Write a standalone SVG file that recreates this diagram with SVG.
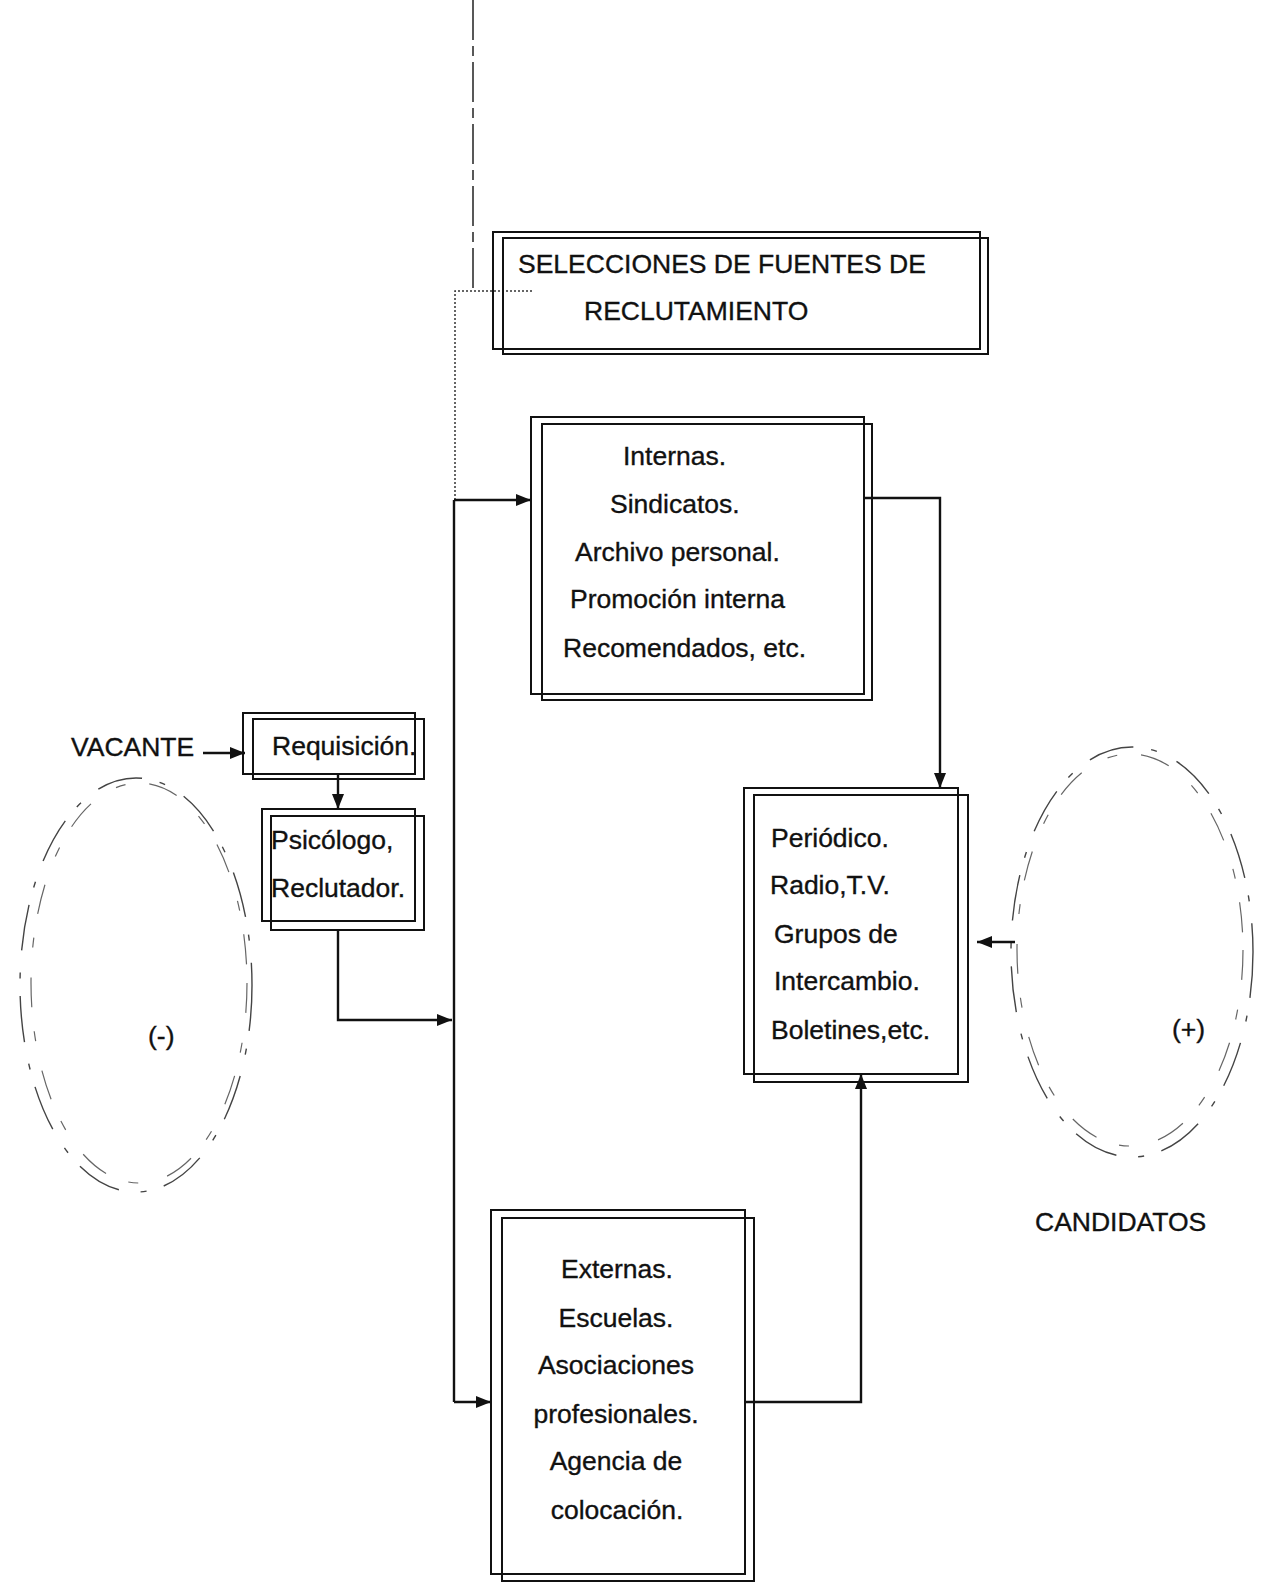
<svg xmlns="http://www.w3.org/2000/svg" width="1263" height="1584" viewBox="0 0 1263 1584">
  <defs>
    <marker id="arrow" viewBox="0 0 15 12" refX="15" refY="6" markerWidth="15" markerHeight="12" markerUnits="userSpaceOnUse" orient="auto">
      <path d="M0,0 L15,6 L0,12 Z" fill="#111"/>
    </marker>
    <style>
      .box { fill: none; stroke: #111; stroke-width: 2; }
      .txt { font-family: "Liberation Sans", Arial, sans-serif; font-size: 26.5px; fill: #111; stroke: #111; stroke-width: 0.35px; }
      .mid { text-anchor: middle; }
      .link { fill: none; stroke: #111; stroke-width: 2.4; }
      .ring { fill: none; stroke: #444; stroke-width: 1.4; stroke-dasharray: 46 18 6 22; }
      .ring2 { fill: none; stroke: #666; stroke-width: 1.2; stroke-dasharray: 30 30 10 24; }
    </style>
  </defs>
  <rect width="1263" height="1584" fill="#fff"/>

  <!-- guide lines at the top of the sheet -->
  <g id="guides">
    <line x1="473" y1="0" x2="473" y2="294" stroke="#222" stroke-width="1.5" stroke-dasharray="40 6 10 6"/>
    <polyline points="532,291 455,291 455,500" fill="none" stroke="#333" stroke-width="1.5" stroke-dasharray="2 2"/>
  </g>

  <!-- title node -->
  <g id="fuentes">
    <rect class="box" x="493" y="232" width="487" height="117"/>
    <rect class="box" x="503" y="238" width="485" height="116"/>
    <text class="txt" x="518" y="273">SELECCIONES DE FUENTES DE</text>
    <text class="txt" x="584" y="320">RECLUTAMIENTO</text>
  </g>

  <!-- internal sources -->
  <g id="internas">
    <rect class="box" x="531" y="417" width="333" height="277"/>
    <rect class="box" x="542" y="424" width="330" height="276"/>
    <text class="txt" x="623" y="465">Internas.</text>
    <text class="txt" x="610" y="513">Sindicatos.</text>
    <text class="txt" x="575" y="561">Archivo personal.</text>
    <text class="txt" x="570" y="608">Promoción interna</text>
    <text class="txt" x="563" y="657">Recomendados, etc.</text>
  </g>

  <!-- vacancy label -->
  <g id="vacante">
    <text class="txt" x="71" y="756">VACANTE</text>
  </g>

  <g id="requisicion">
    <rect class="box" x="243" y="713" width="172" height="61"/>
    <rect class="box" x="253" y="719" width="171" height="60"/>
    <text class="txt" x="272" y="755">Requisición.</text>
  </g>

  <g id="psicologo">
    <rect class="box" x="262" y="809" width="153" height="112"/>
    <rect class="box" x="271" y="816" width="153" height="114"/>
    <text class="txt" x="271" y="849">Psicólogo,</text>
    <text class="txt" x="271" y="897">Reclutador.</text>
  </g>

  <!-- media -->
  <g id="medios">
    <rect class="box" x="744" y="788" width="214" height="286"/>
    <rect class="box" x="754" y="795" width="214" height="287"/>
    <text class="txt" x="771" y="847">Periódico.</text>
    <text class="txt" x="770" y="894">Radio,T.V.</text>
    <text class="txt" x="774" y="943">Grupos de</text>
    <text class="txt" x="774" y="990">Intercambio.</text>
    <text class="txt" x="771" y="1039">Boletines,etc.</text>
  </g>

  <!-- external sources -->
  <g id="externas">
    <rect class="box" x="491" y="1210" width="254" height="364"/>
    <rect class="box" x="502" y="1218" width="252" height="363"/>
    <text class="txt mid" x="617" y="1278">Externas.</text>
    <text class="txt mid" x="616" y="1327">Escuelas.</text>
    <text class="txt mid" x="616" y="1374">Asociaciones</text>
    <text class="txt mid" x="616" y="1423">profesionales.</text>
    <text class="txt mid" x="616" y="1470">Agencia de</text>
    <text class="txt mid" x="617" y="1519">colocación.</text>
  </g>

  <!-- vacancy pool -->
  <g id="negativo">
    <ellipse class="ring" cx="136" cy="985" rx="116" ry="207"/>
    <ellipse class="ring2" cx="139" cy="983" rx="108" ry="200"/>
    <text class="txt" x="148" y="1045">(-)</text>
  </g>

  <!-- candidate pool -->
  <g id="positivo">
    <ellipse class="ring" cx="1132" cy="952" rx="121" ry="205"/>
    <ellipse class="ring2" cx="1130" cy="950" rx="113" ry="196"/>
    <text class="txt" x="1172" y="1038">(+)</text>
  </g>

  <g id="candidatos">
    <text class="txt" x="1035" y="1231">CANDIDATOS</text>
  </g>

  <!-- connectors -->
  <g id="connectors">
    <line class="link" x1="203" y1="753" x2="245" y2="753" marker-end="url(#arrow)"/>
    <line class="link" x1="338" y1="774" x2="338" y2="809" marker-end="url(#arrow)"/>
    <polyline class="link" points="338,930 338,1020 452,1020" marker-end="url(#arrow)"/>
    <line class="link" x1="454" y1="500" x2="454" y2="1402"/>
    <line class="link" x1="454" y1="500" x2="531" y2="500" marker-end="url(#arrow)"/>
    <line class="link" x1="454" y1="1402" x2="491" y2="1402" marker-end="url(#arrow)"/>
    <polyline class="link" points="864,498 940,498 940,788" marker-end="url(#arrow)"/>
    <polyline class="link" points="745,1402 861,1402 861,1074" marker-end="url(#arrow)"/>
    <line class="link" x1="1015" y1="942" x2="977" y2="942" marker-end="url(#arrow)"/>
  </g>
</svg>
